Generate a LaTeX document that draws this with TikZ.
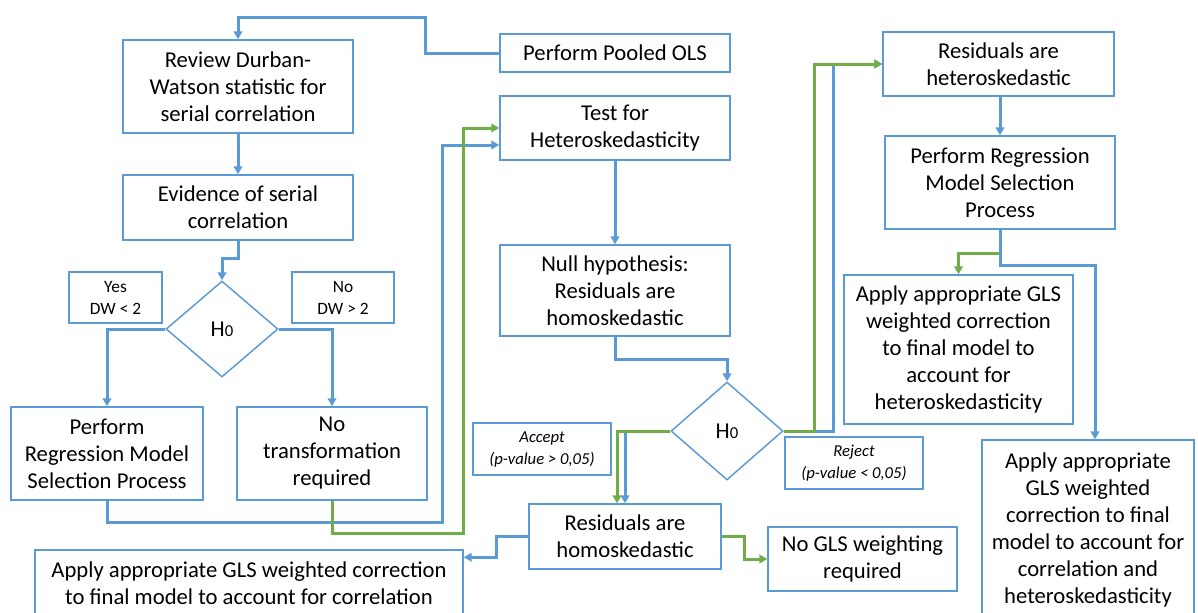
\documentclass[tikz,border=0pt]{standalone}
\usepackage{fontspec}
\setmainfont{Carlito}
\usetikzlibrary{arrows.meta,shapes.geometric,calc}
\definecolor{boxblue}{RGB}{91,155,213}
\definecolor{flowgreen}{RGB}{112,173,71}
\tikzset{every picture/.style={line width=0.75pt}}
\tikzset{
  box/.style={draw=boxblue, line width=1.1pt, fill=white, align=center, inner sep=0pt,
    font=\fontsize{17}{20.25}\selectfont},
  tag/.style={box, font=\fontsize{13}{16.5}\selectfont},
  decide/.style={box, diamond, minimum width=84pt, minimum height=72pt},
  bline/.style={draw=boxblue, line width=2.25pt, -{Triangle[length=6pt,width=6.5pt]}},
  gline/.style={draw=flowgreen, line width=2.25pt, -{Triangle[length=6pt,width=6.5pt]}}
}

\begin{document}
\begin{tikzpicture}[x=0.75pt,y=0.75pt,yscale=-1,xscale=1]
\useasboundingbox (0,0) rectangle (1198,612);

%Shape: Rectangle [left column]
\node [box, minimum width=172.5pt, minimum height=28.5pt] (pooled) at (615,53) {Perform Pooled OLS};
\node [box, minimum width=172.5pt, minimum height=69.75pt] (review) at (238,86.5) {Review Durban-\\Watson statistic for\\serial correlation};
\node [box, minimum width=172.5pt, minimum height=48.75pt] (evid) at (238,207.5) {Evidence of serial\\correlation};
\node [tag, minimum width=69.75pt, minimum height=38.25pt] (yeslbl) at (115.5,297.5) {Yes\\DW < 2};
\node [tag, minimum width=76.5pt, minimum height=38.25pt] (nolbl) at (343,297.5) {No\\DW > 2};
%Shape: Diamond
\node [decide] (dwtest) at (222,329) {H\fontsize{12.5}{12.5}\selectfont 0};
\node [box, minimum width=144pt, minimum height=69.75pt] (regleft) at (107,453.5) {Perform\\Regression Model\\Selection Process};
\node [box, minimum width=142.5pt, minimum height=69.75pt] (notrans) at (332,453.5) {No\\transformation\\required};
\node [box, minimum width=321pt, minimum height=50.25pt] (glscor) at (249,583.5) {Apply appropriate GLS weighted correction\\to final model to account for correlation};

%Shape: Rectangle [middle column]
\node [box, minimum width=172.5pt, minimum height=48pt] (hettest) at (615,128) {Test for\\Heteroskedasticity};
\node [box, minimum width=172.5pt, minimum height=68.25pt] (nullhyp) at (615,290.5) {Null hypothesis:\\Residuals are\\homoskedastic};
%Shape: Diamond
\node [decide, minimum height=73.5pt] (htest) at (727,431) {H\fontsize{12.5}{12.5}\selectfont 0};
\node [tag, font=\fontsize{12.5}{16.5}\selectfont\itshape, minimum width=103.5pt, minimum height=39pt] (acclbl) at (542,449) {Accept\\(p-value > 0,05)};
\node [tag, font=\fontsize{12.5}{16.5}\selectfont\itshape, minimum width=103.5pt, minimum height=39pt] (rejlbl) at (854,463) {Reject\\(p-value < 0,05)};
\node [box, minimum width=144pt, minimum height=48.75pt] (homo) at (625,536.5) {Residuals are\\homoskedastic};
\node [box, minimum width=141.75pt, minimum height=48pt] (nogls) at (862.5,559) {No GLS weighting\\required};

%Shape: Rectangle [right column]
\node [box, minimum width=173.25pt, minimum height=48pt] (hetero) at (998.5,64) {Residuals are\\heteroskedastic};
\node [box, minimum width=172.5pt, minimum height=69.75pt] (regright) at (1000,182.5) {Perform Regression\\Model Selection\\Process};
\node [box, minimum width=171.75pt, minimum height=111.75pt] (glshet) at (958.5,349.5) {Apply appropriate GLS\\weighted correction\\to final model to\\account for\\heteroskedasticity};
\node [box, minimum width=159pt, minimum height=135pt] (glsall) at (1088,530) {Apply appropriate\\GLS weighted\\correction to final\\model to account for\\correlation and\\heteroskedasticity};

%Straight Lines [serial correlation branch]
\draw [bline] (pooled.west) -| (425,17) -| (review.north);
\draw [bline] (review.south) -- (evid.north);
\draw [bline] (evid.south) -- ++(0,18) -| (dwtest.north);
\draw [bline] (dwtest.west) -| (regleft.north);
\draw [bline] (dwtest.east) -| (notrans.north);
\draw [bline] (regleft.south) |- (442,522) |- ($(hettest.west)+(0,17)$);
\draw [gline] (notrans.south) |- (463,533) |- (hettest.west);

%Straight Lines [heteroskedasticity branch]
\draw [bline] (hettest.south) -- (nullhyp.north);
\draw [bline] (nullhyp.south) -- ++(0,23) -| (htest.north);
\draw [bline] (htest.west) -| (homo.north);
\draw [gline] (htest.west) -| ($(homo.north)+(-8,0)$);
\draw [bline] (htest.east) -| ($(hetero.west)+(-49,0)$) -- (hetero.west);
\draw [gline] (htest.east) -| ($(hetero.west)+(-68,0)$) -- (hetero.west);
\draw [bline] (homo.west) -- ++(-32,0) |- ($(glscor.north east)+(0,8)$);
\draw [gline] (homo.east) -- ++(23,0) |- (nogls.west);
\draw [bline] (regright.north |- hetero.south) -- (regright.north);
\draw [gline] (regright.south) -- ++(0,24) -| (glshet.north);
\draw [bline] (regright.south) -- ++(0,36) -| ($(glsall.north)+(7,0)$);

\end{tikzpicture}
\end{document}
